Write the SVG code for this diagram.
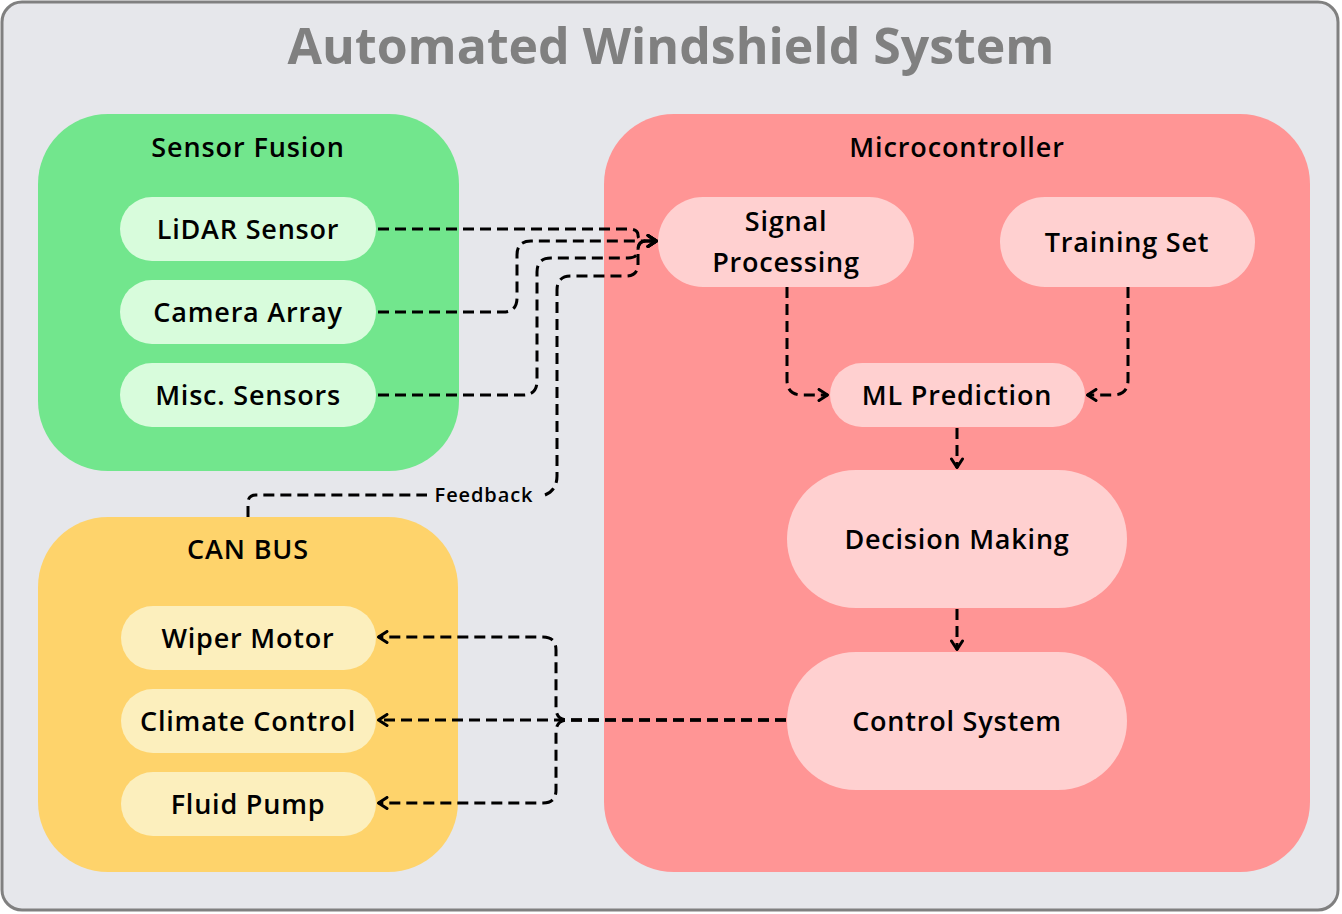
<svg xmlns="http://www.w3.org/2000/svg" width="1342" height="914" viewBox="0 0 1342 914">
<style>
text{font-family:"Open Sans","Liberation Sans",sans-serif;font-weight:600;fill:#000;text-anchor:middle;dominant-baseline:central}
.title{font-size:50px;font-weight:700;fill:#808080}
.gt{font-size:27px;letter-spacing:0.9px}
.nt{font-size:27px;letter-spacing:0.8px}
.fb{font-size:20px;letter-spacing:0.9px}
.c{fill:none;stroke:#000;stroke-width:3;stroke-dasharray:11 6;stroke-linejoin:round}
.a{marker-end:url(#arr)}
.gn{fill:#d8fcdc}.rn{fill:#ffd0d0}.yn{fill:#fcefbd}
</style>
<defs>
<marker id="arr" viewBox="0 0 12 14" refX="11" refY="7" markerWidth="12" markerHeight="14" markerUnits="userSpaceOnUse" orient="auto">
<path d="M2,1.5 L10.5,7 L2,12.5" fill="none" stroke="#000" stroke-width="3" stroke-linecap="round" stroke-linejoin="round"/>
</marker>
</defs>
<rect id="bg" x="2" y="2" width="1336" height="908" rx="20" fill="#e6e7eb" stroke="#808080" stroke-width="3"/>
<text class="title" x="671" y="45">Automated Windshield System</text>

<g id="sensor-fusion">
<rect x="38" y="114" width="421" height="357" rx="70" fill="#72e68d"/>
<text class="gt" x="248" y="146">Sensor Fusion</text>
</g>
<g id="lidar"><rect class="gn" x="120" y="197" width="256" height="64" rx="32"/><text class="nt" x="248" y="228">LiDAR Sensor</text></g>
<g id="camera"><rect class="gn" x="120" y="280" width="256" height="64" rx="32"/><text class="nt" x="248" y="311">Camera Array</text></g>
<g id="misc"><rect class="gn" x="120" y="363" width="256" height="64" rx="32"/><text class="nt" x="248" y="394">Misc. Sensors</text></g>

<g id="microcontroller">
<rect x="604" y="114" width="706" height="758" rx="70" fill="#ff9595"/>
<text class="gt" x="957" y="146">Microcontroller</text>
</g>
<g id="signal"><rect class="rn" x="658" y="197" width="256" height="90" rx="45"/><text class="nt" x="786" y="220">Signal</text><text class="nt" x="786" y="261">Processing</text></g>
<g id="training"><rect class="rn" x="1000" y="197" width="255" height="90" rx="45"/><text class="nt" x="1127" y="241">Training Set</text></g>
<g id="ml"><rect class="rn" x="830" y="363" width="255" height="64" rx="32"/><text class="nt" x="957" y="394">ML Prediction</text></g>
<g id="decision"><rect class="rn" x="787" y="470" width="340" height="138" rx="69"/><text class="nt" x="957" y="538">Decision Making</text></g>
<g id="control"><rect class="rn" x="787" y="652" width="340" height="138" rx="69"/><text class="nt" x="957" y="720">Control System</text></g>

<g id="can-bus">
<rect x="38" y="517" width="420" height="355" rx="70" fill="#fed36b"/>
<text class="gt" x="248" y="548">CAN BUS</text>
</g>
<g id="wiper"><rect class="yn" x="121" y="606" width="255" height="64" rx="32"/><text class="nt" x="248" y="637">Wiper Motor</text></g>
<g id="climate"><rect class="yn" x="121" y="689" width="255" height="64" rx="32"/><text class="nt" x="248" y="720">Climate Control</text></g>
<g id="fluid"><rect class="yn" x="121" y="772" width="255" height="64" rx="32"/><text class="nt" x="248" y="803">Fluid Pump</text></g>

<g id="connectors">
<path class="c a" d="M378,229 H628 Q638,229 638,235 Q638,241 646,241 H657"/>
<path class="c a" d="M378,312 H503 Q517,312 517,298 V255 Q517,241 531,241 H657"/>
<path class="c a" d="M378,395 H523 Q537,395 537,381 V272 Q537,258 551,258 H628 Q638,258 638,250 Q638,241 646,241 H657"/>
<path class="c" d="M248,517 V503 Q248,495 256,495 H427"/>
<text class="fb" x="484" y="494">Feedback</text>
<path class="c a" d="M545,495 Q557,490 557,476 V290 Q557,276 571,276 H626 Q638,276 638,264 V250 Q638,241 646,241 H657"/>
<path class="c a" d="M787,287 V380 Q787,395 802,395 H828"/>
<path class="c a" d="M1128,287 V380 Q1128,395 1113,395 H1087"/>
<path class="c a" d="M957,428 V468"/>
<path class="c a" d="M957,609 V650"/>
<path class="c a" d="M786,720 H378"/>
<path class="c a" d="M786,720 H568 Q556,720 556,708 V650 Q556,637 543,637 H378"/>
<path class="c a" d="M786,720 H568 Q556,720 556,732 V790 Q556,803 543,803 H378"/>
</g>
</svg>
